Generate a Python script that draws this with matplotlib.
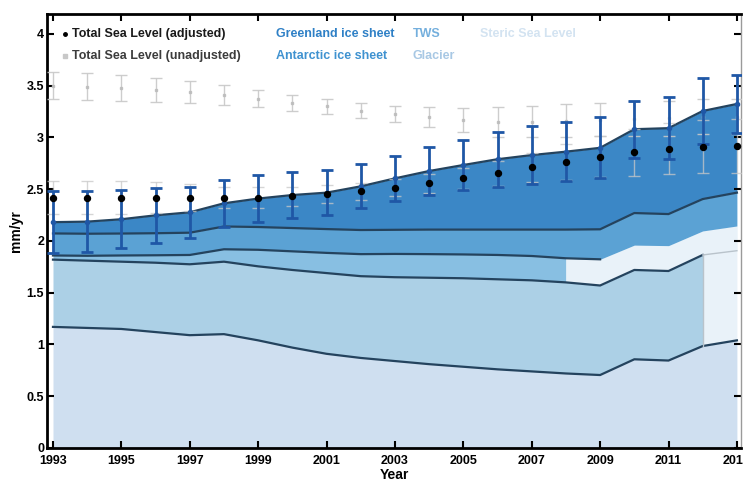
import matplotlib
matplotlib.use("Agg")
import matplotlib.pyplot as plt
import numpy as np

plt.rcParams['font.family'] = ['Liberation Sans', 'DejaVu Sans']
plt.rcParams['font.weight'] = 'bold'

# data (mm/yr)
years = np.arange(1993, 2014)

steric = [1.17, 1.16, 1.15, 1.12, 1.09, 1.10, 1.04, 0.97, 0.91, 0.87, 0.84,
          0.81, 0.785, 0.76, 0.74, 0.72, 0.705, 0.857, 0.845, 0.985, 1.04]
glacier = [0.65, 0.65, 0.65, 0.67, 0.685, 0.70, 0.715, 0.75, 0.78, 0.79, 0.81,
           0.835, 0.855, 0.87, 0.88, 0.88, 0.865, 0.863, 0.865, 0.88, 0.866]
tws = [0.04, 0.047, 0.06, 0.072, 0.09, 0.12, 0.16, 0.18, 0.195, 0.213, 0.225,
       0.228, 0.23, 0.235, 0.235, 0.233, 0.253, 0.24, 0.245, 0.232, 0.239]
antarctic = [0.213, 0.213, 0.212, 0.213, 0.215, 0.22, 0.22, 0.225, 0.23, 0.233, 0.233,
             0.237, 0.24, 0.245, 0.255, 0.277, 0.29, 0.31, 0.305, 0.308, 0.322]
greenland = [0.109, 0.117, 0.138, 0.173, 0.197, 0.224, 0.275, 0.319, 0.352, 0.422, 0.497,
             0.566, 0.624, 0.68, 0.72, 0.753, 0.787, 0.81, 0.83, 0.851, 0.857]
budget_err = [0.30, 0.295, 0.28, 0.263, 0.245, 0.23, 0.225, 0.222, 0.218, 0.212, 0.218,
              0.23, 0.245, 0.264, 0.28, 0.285, 0.295, 0.275, 0.30, 0.315, 0.283]

gmsl_adj = [2.42, 2.42, 2.42, 2.42, 2.42, 2.42, 2.42, 2.43, 2.454, 2.48, 2.515,
            2.557, 2.605, 2.655, 2.71, 2.763, 2.815, 2.857, 2.893, 2.91, 2.92]
gmsl_adj_err = [0.16, 0.16, 0.155, 0.15, 0.135, 0.10, 0.10, 0.09, 0.085, 0.08, 0.08,
                0.09, 0.10, 0.12, 0.14, 0.17, 0.20, 0.225, 0.25, 0.255, 0.26]
gmsl_raw = [3.50, 3.49, 3.478, 3.46, 3.437, 3.41, 3.375, 3.336, 3.30, 3.26, 3.227,
            3.195, 3.17, 3.15, 3.15, 3.16, 3.17, 3.18, 3.185, 3.20, 3.20]
gmsl_raw_err = [0.13, 0.13, 0.122, 0.115, 0.108, 0.10, 0.085, 0.078, 0.072, 0.073, 0.08,
                0.097, 0.115, 0.145, 0.15, 0.16, 0.16, 0.17, 0.17, 0.17, 0.17]

c_green = '#3b87c6'
c_ant = '#5ba2d4'
c_tws = '#88bfe2'
c_glac = '#acd0e6'
c_ster = '#cfdff0'
c_pale = '#e9f2f9'
c_edge = '#24435e'

L1 = np.array(steric)
L2 = L1 + glacier
L3 = L2 + tws
L4 = L3 + antarctic
L5 = L4 + greenland

fig = plt.figure(figsize=(7.43, 4.82), dpi=100)
ax = fig.add_axes([47/743, 1-448/482, 694/743, 434/482])

i08 = list(years).index(2008)
i12 = list(years).index(2012)

ax.fill_between(years, 0, L1, color=c_ster, lw=0)
ax.fill_between(years[:i12+1], L1[:i12+1], L2[:i12+1], color=c_glac, lw=0)
ax.fill_between(years[i12:], L1[i12:], L3[i12:], color=c_pale, lw=0)
ax.fill_between(years[:i08+1], L2[:i08+1], L3[:i08+1], color=c_tws, lw=0)
ax.fill_between(years[i08:], L2[i08:], L3[i08:], color=c_pale, lw=0)
ax.fill_between(years, L3, L4, color=c_ant, lw=0)
ax.fill_between(years, L4, L5, color=c_green, lw=0)

ax.plot(years, L1, color=c_edge, lw=1.6)
ax.plot(years[:i12+1], L2[:i12+1], color=c_edge, lw=1.6)
ax.plot(years[i12:], L2[i12:], color='#b9c3cb', lw=1)
ax.plot([years[i12], years[i12]], [L1[i12], L2[i12]], color='#b9c3cb', lw=1)
ax.plot(years[:i08+2], L3[:i08+2], color=c_edge, lw=1.6)
ax.plot(years, L4, color=c_edge, lw=1.6)
ax.plot(years, L5, color=c_edge, lw=1.6)

# unadjusted and adjusted GMSL (grey bars)
ax.errorbar(years, gmsl_raw, yerr=gmsl_raw_err, fmt='s', ms=1.8, color='#bdbdbd',
            ecolor='#c8c8c8', elinewidth=1, capsize=4.5, capthick=1, alpha=0.9, zorder=4)
ax.errorbar(years, gmsl_adj, yerr=gmsl_adj_err, fmt='none',
            ecolor='#c8c8c8', elinewidth=1, capsize=4.5, capthick=1, alpha=0.75, zorder=4)
# sum of contributions
ax.errorbar(years, L5, yerr=budget_err, fmt='o', ms=3, color='#1f57a6',
            ecolor='#1f57a6', elinewidth=2, capsize=4.5, capthick=2, zorder=5)
ax.plot(years, gmsl_adj, 'o', color='black', ms=4.3, zorder=6)

# legend as coloured text
ax.plot([0.026], [0.954], 'o', color='black', ms=2.5, transform=ax.transAxes)
ax.plot([0.026], [0.903], 's', color='#c8c8c8', ms=2.5, transform=ax.transAxes)
ax.text(0.036, 0.954, 'Total Sea Level (adjusted)', transform=ax.transAxes,
        fontsize=9, color='#1a1a1a', va='center')
ax.text(0.036, 0.903, 'Total Sea Level (unadjusted)', transform=ax.transAxes,
        fontsize=9, color='#3c3c3c', va='center')
ax.text(0.330, 0.954, 'Greenland ice sheet', transform=ax.transAxes,
        fontsize=9, color='#2f80c6', va='center')
ax.text(0.330, 0.903, 'Antarctic ice sheet', transform=ax.transAxes,
        fontsize=9, color='#3f92d0', va='center')
ax.text(0.527, 0.954, 'TWS', transform=ax.transAxes,
        fontsize=9, color='#74afdd', va='center')
ax.text(0.527, 0.903, 'Glacier', transform=ax.transAxes,
        fontsize=9, color='#a8c8e4', va='center')
ax.text(0.624, 0.954, 'Steric Sea Level', transform=ax.transAxes,
        fontsize=9, color='#d3e3f1', va='center')

ax.set_xlim(1992.825, 2013.12)
ax.set_ylim(0, 4.193)
ax.set_xticks(np.arange(1993, 2014, 2))
ax.set_yticks(np.arange(0, 4.01, 0.5))
ax.set_yticklabels(['%g' % v for v in np.arange(0, 4.01, 0.5)])
ax.tick_params(direction='in', length=5, width=1.5, labelsize=9,
               top=True, right=True, pad=2)
ax.tick_params(axis='x', pad=5)
for s in ['left', 'bottom', 'top']:
    ax.spines[s].set_linewidth(2)
ax.spines['right'].set_linewidth(1)
ax.spines['right'].set_color('#9a9a9a')
ax.set_xlabel('Year', fontsize=10, fontweight='bold', labelpad=1)
ax.set_ylabel('mm/yr', fontsize=10, fontweight='bold', labelpad=3)

fig.savefig('out.png', dpi=100)
